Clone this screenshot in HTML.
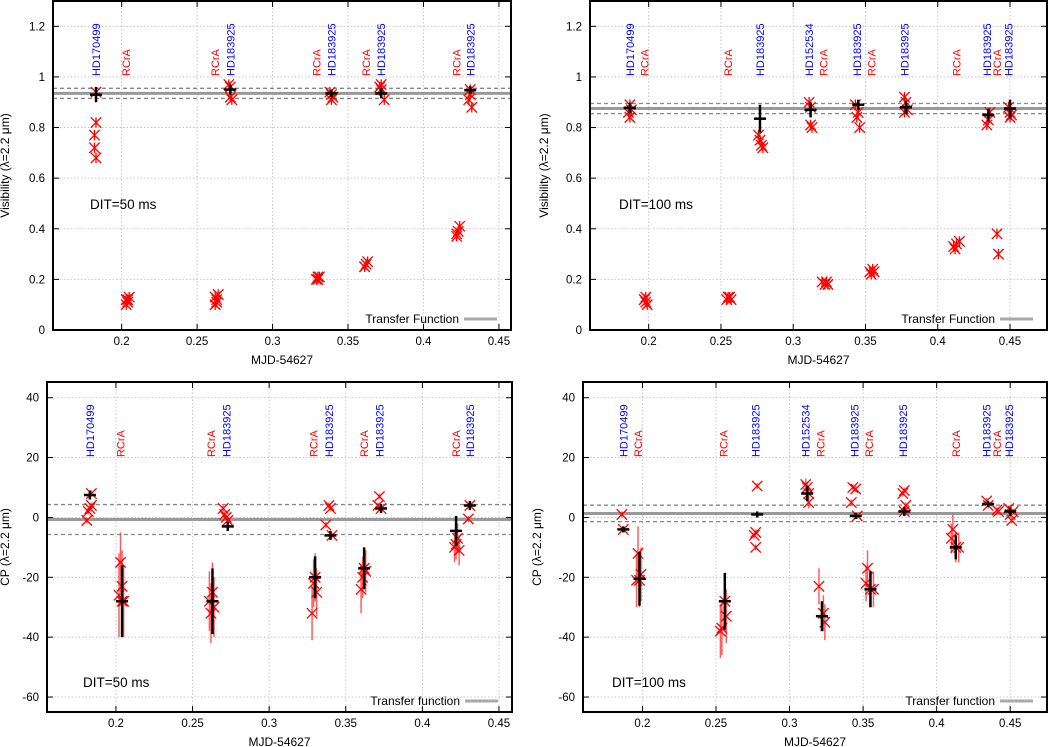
<!DOCTYPE html>
<html><head><meta charset="utf-8">
<style>
html,body{margin:0;padding:0;background:#fff;}
svg{display:block;font-family:"Liberation Sans",sans-serif;}
</style></head>
<body>
<svg id="fig" width="1052" height="747" viewBox="0 0 1052 747" xmlns="http://www.w3.org/2000/svg"></svg>
<script>
// ---------- Panel 1: Visibility DIT=50 ----------
const p1RedX = [0.183,0.183,0.182,0.182,0.183, 0.203,0.204,0.205,0.203,0.204, 0.262,0.263,0.262,0.264,0.263, 0.271,0.272,0.273,0.272, 0.329,0.330,0.331,0.330, 0.339,0.340,0.339,0.338, 0.361,0.362,0.363,0.361, 0.371,0.372,0.374,0.372, 0.422,0.423,0.424,0.422, 0.431,0.430,0.432,0.431];
const p1RedY = [0.94,0.82,0.77,0.72,0.68, 0.12,0.11,0.13,0.10,0.12, 0.13,0.12,0.10,0.14,0.11, 0.97,0.96,0.91,0.92, 0.20,0.21,0.21,0.20, 0.93,0.92,0.91,0.94, 0.25,0.26,0.27,0.25, 0.96,0.95,0.91,0.97, 0.38,0.39,0.41,0.37, 0.93,0.91,0.88,0.95];
const p1CalX = [0.183,0.272,0.339,0.372,0.431];
const p1CalY = [0.93,0.95,0.935,0.935,0.948];
const p1CalE = [0.03,0.02,0.015,0.02,0.015];
const p1TF = [0.935,0.955,0.915];
const p1LabX = [0.183,0.203,0.262,0.272,0.329,0.339,0.362,0.372,0.422,0.431];
const p1LabT = ["HD170499","RCrA","RCrA","HD183925","RCrA","HD183925","RCrA","HD183925","RCrA","HD183925"];

// ---------- Panel 2: Visibility DIT=100 ----------
const p2RedX = [0.187,0.188,0.187,0.186, 0.197,0.198,0.199,0.198,0.197, 0.254,0.256,0.257,0.255, 0.276,0.277,0.278,0.279, 0.311,0.312,0.313,0.312, 0.320,0.322,0.324,0.323, 0.343,0.345,0.344,0.346, 0.353,0.355,0.356,0.354, 0.377,0.378,0.379,0.377, 0.411,0.413,0.415,0.412, 0.435,0.434,0.436, 0.441,0.442, 0.449,0.450,0.451,0.450];
const p2RedY = [0.89,0.87,0.84,0.86, 0.12,0.11,0.10,0.13,0.12, 0.12,0.13,0.12,0.13, 0.77,0.75,0.73,0.72, 0.90,0.88,0.80,0.81, 0.19,0.18,0.18,0.19, 0.89,0.86,0.84,0.80, 0.23,0.24,0.23,0.22, 0.92,0.90,0.87,0.86, 0.33,0.34,0.35,0.32, 0.83,0.81,0.86, 0.38,0.30, 0.88,0.86,0.85,0.84];
const p2CalX = [0.187,0.277,0.312,0.345,0.378,0.435,0.450];
const p2CalY = [0.878,0.835,0.87,0.89,0.88,0.85,0.875];
const p2CalE = [0.02,0.055,0.03,0.02,0.025,0.025,0.035];
const p2TF = [0.875,0.895,0.855];
const p2LabX = [0.187,0.197,0.255,0.277,0.311,0.321,0.344,0.354,0.377,0.413,0.434,0.441,0.449];
const p2LabT = ["HD170499","RCrA","RCrA","HD183925","HD152534","RCrA","HD183925","RCrA","HD183925","RCrA","HD183925","RCrA","HD183925"];

// ---------- Panel 3: CP DIT=50 ----------
const p3RedX = [0.184,0.183,0.182,0.181,0.184, 0.203,0.202,0.204,0.205,0.204, 0.261,0.262,0.263,0.264, 0.270,0.271,0.272,0.273, 0.328,0.330,0.331,0.329, 0.339,0.340,0.337,0.341, 0.360,0.361,0.362,0.363, 0.372,0.373,0.371, 0.421,0.422,0.423,0.424, 0.431,0.430];
const p3RedY = [8,3,2,-1,4, -15,-26,-23,-28,-28, -28,-32,-25,-30, 3,1,0,-1, -32,-20,-25,-22, 4,3,-2.5,-6, -24,-20,-17,-18, 7,3,4, -10,-9,-7,-11, 4,-0.5];
const p3RedE = [1,1,1,1,1, 10,14,12,12,12, 10,10,10,10, 1,1,1,1, 9,8,8,8, 1,1,1,1, 8,7,7,7, 1,1,1, 5,5,5,5, 1,1];
const p3CalX = [0.183,0.204,0.263,0.273,0.330,0.340,0.362,0.373,0.422,0.431];
const p3CalY = [7.5,-28,-28,-3,-20,-6,-17,3,-4.5,4];
const p3CalE = [1.5,12,11,1.5,7,1.5,7,1.5,5,1.5];
const p3TF = [-0.7,4.3,-5.7];
const p3LabX = [0.183,0.203,0.262,0.272,0.329,0.339,0.362,0.372,0.422,0.431];
const p3LabT = ["HD170499","RCrA","RCrA","HD183925","RCrA","HD183925","RCrA","HD183925","RCrA","HD183925"];

// ---------- Panel 4: CP DIT=100 ----------
const p4RedX = [0.186,0.187, 0.197,0.198,0.199,0.196, 0.254,0.253,0.256,0.257, 0.278,0.277,0.276,0.277, 0.311,0.312,0.313,0.313, 0.320,0.323,0.324, 0.343,0.345,0.342,0.346, 0.353,0.352,0.355,0.357, 0.377,0.378,0.379,0.378, 0.411,0.410,0.413,0.415, 0.434,0.435, 0.441,0.442, 0.449,0.450,0.451,0.452];
const p4RedY = [1,-4, -12,-21,-19,-21, -37,-38,-28,-33, 10.5,-5,-6,-10, 11,10,8,5, -23,-32,-35, 10,9.5,5,0.5, -17,-22,-24,-24, 8,9,4,2, -4,-7,-10,-10, 5.5,4, 2.5,2, 3,1,-1,2];
const p4RedE = [1,1, 9,9,9,9, 9,9,9,9, 1,1,1,1, 2,2,2,2, 6,6,6, 1,1,1,1, 6,6,6,6, 1,1,1,1, 5,5,5,5, 1,1, 1,1, 1,1,1,1];
const p4CalX = [0.187,0.198,0.256,0.278,0.312,0.322,0.345,0.355,0.378,0.413,0.435,0.450];
const p4CalY = [-4,-20.5,-28,1,8,-33,0.5,-24,2,-10,4.5,2];
const p4CalE = [1,9,9.5,1,2.5,5,1,6,1.5,4,1,1.5];
const p4TF = [1.3,4.1,-1.4];
const p4LabX = [0.187,0.197,0.255,0.277,0.311,0.321,0.344,0.354,0.377,0.413,0.434,0.441,0.449];
const p4LabT = ["HD170499","RCrA","RCrA","HD183925","HD152534","RCrA","HD183925","RCrA","HD183925","RCrA","HD183925","RCrA","HD183925"];

const xTicks = [0.2,0.25,0.3,0.35,0.4,0.45];
const xTickLabels = ["0.2","0.25","0.3","0.35","0.4","0.45"];
const visTicks = [0,0.2,0.4,0.6,0.8,1,1.2];
const visTickLabels = ["0","0.2","0.4","0.6","0.8","1","1.2"];
const cpTicks = [-60,-40,-20,0,20,40];
const cpTickLabels = ["-60","-40","-20","0","20","40"];

const NS = "http://www.w3.org/2000/svg";
const svg = document.getElementById('fig');
function mk(tag, attrs, parent){
  const e = document.createElementNS(NS, tag);
  for (const k in attrs) e.setAttribute(k, attrs[k]);
  (parent||svg).appendChild(e);
  return e;
}

function panel(cfg){
  const g = mk('g', {});
  
  
  const {L,R,T,B,x0,x1,y0,y1} = cfg;
  const sx = v => L + (v - x0) / (x1 - x0) * (R - L);
  const sy = v => B - (v - y0) / (y1 - y0) * (B - T);
  cfg.xt.forEach((v,i) => {
    const gl = mk('line', {x1:sx(v),x2:sx(v),y1:T,y2:B,stroke:'#bbb','stroke-width':0.8,'stroke-dasharray':'1.5,2'}, g);
    
    
    mk('line', {x1:sx(v),x2:sx(v),y1:B,y2:B-6,stroke:'#000','stroke-width':1}, g);
    mk('line', {x1:sx(v),x2:sx(v),y1:T,y2:T+6,stroke:'#000','stroke-width':1}, g);
    const t = mk('text', {x:sx(v),y:B+15,'text-anchor':'middle','font-size':11.5,fill:'#000'}, g);
    
    
    t.textContent = cfg.xtl[i];
  });
  cfg.yt.forEach((v,i) => {
    const gl = mk('line', {x1:L,x2:R,y1:sy(v),y2:sy(v),stroke:'#bbb','stroke-width':0.8,'stroke-dasharray':'1.5,2'}, g);
    
    
    mk('line', {x1:L,x2:L+6,y1:sy(v),y2:sy(v),stroke:'#000','stroke-width':1}, g);
    mk('line', {x1:R,x2:R-6,y1:sy(v),y2:sy(v),stroke:'#000','stroke-width':1}, g);
    const t = mk('text', {x:L-8,y:sy(v)+4,'text-anchor':'end','font-size':11.5,fill:'#000'}, g);
    
    
    t.textContent = cfg.ytl[i];
  });
  const tf = cfg.tf;
  const tfl = mk('line', {x1:L,x2:R,y1:sy(tf[0]),y2:sy(tf[0]),stroke:'#999','stroke-width':3}, g);
  
  
  [tf[1],tf[2]].forEach(v => {
    const d = mk('line', {x1:L,x2:R,y1:sy(v),y2:sy(v),stroke:'#888','stroke-width':1.3,'stroke-dasharray':'4,3'}, g);
    
    
  });
  if (cfg.re) cfg.rx.forEach((v,i) => {
    const e = mk('line', {x1:sx(v),x2:sx(v),y1:sy(cfg.ry[i]-cfg.re[i]),y2:sy(cfg.ry[i]+cfg.re[i]),stroke:'rgba(255,40,40,0.75)','stroke-width':1.5}, g);
    
    
  });
  cfg.rx.forEach((v,i) => {
    const X = sx(v), Y = sy(cfg.ry[i]), s = 5.2;
    let d = `M${X-s},${Y-s}L${X+s},${Y+s}M${X-s},${Y+s}L${X+s},${Y-s}`;
    if (cfg.star) d += `M${X},${Y-s}L${X},${Y+s}`;
    const p = mk('path', {d:d,stroke:'#f00','stroke-width':1.3,fill:'none'}, g);
    
    
  });
  cfg.cx.forEach((v,i) => {
    const X = sx(v), Y = sy(cfg.cy[i]);
    const e = mk('line', {x1:X,x2:X,y1:sy(cfg.cy[i]-cfg.ce[i]),y2:sy(cfg.cy[i]+cfg.ce[i]),stroke:'#000','stroke-width':2.5}, g);
    
    
    const h = mk('line', {x1:X-6,x2:X+6,y1:Y,y2:Y,stroke:'#000','stroke-width':2.5}, g);
    
    
  });
  cfg.lx.forEach((v,i) => {
    const X = sx(v) + 4, Y = cfg.labY;
    const t = mk('text', {x:X,y:Y,transform:`rotate(-90 ${X} ${Y})`,'font-size':11,fill:cfg.lt[i]==='RCrA'?'#f00':'#00f'}, g);
    
    
    t.textContent = cfg.lt[i];
  });
  const dt = mk('text', {x:cfg.ditX,y:cfg.ditY,'font-size':13.5,fill:'#000'}, g);
  
  
  dt.textContent = cfg.dit;
  const lg = mk('text', {x:R-52,y:B-7,'text-anchor':'end','font-size':12,fill:'#000'}, g);
  
  
  lg.textContent = cfg.leg;
  const ll = mk('line', {x1:R-47,x2:R-14,y1:B-11,y2:B-11,stroke:'#aaa','stroke-width':3}, g);
  
  
  const f = mk('rect', {x:L,y:T,width:R-L,height:B-T,fill:'none',stroke:'#000','stroke-width':2}, g);
  
  
  const xa = mk('text', {x:(L+R)/2,y:B+34,'text-anchor':'middle','font-size':12,fill:'#000'}, g);
  
  
  xa.textContent = 'MJD-54627';
  const yx = cfg.yTitleX, yy = (T+B)/2;
  const ya = mk('text', {x:yx,y:yy,'text-anchor':'middle','font-size':12,fill:'#000',transform:`rotate(-90 ${yx} ${yy})`}, g);
  
  
  ya.textContent = cfg.ytitle;
}

panel({name:'visibility-dit50-panel',L:53,R:511,T:1,B:330,x0:0.1545,x1:0.458,y0:0,y1:1.3,
  xt:xTicks,xtl:xTickLabels,yt:visTicks,ytl:visTickLabels,tf:p1TF,
  rx:p1RedX,ry:p1RedY,star:true,cx:p1CalX,cy:p1CalY,ce:p1CalE,lx:p1LabX,lt:p1LabT,labY:76,
  dit:'DIT=50 ms',ditX:90,ditY:209,leg:'Transfer Function',yTitleX:9,ytitle:'Visibility (λ=2.2 μm)'});
panel({name:'visibility-dit100-panel',L:590,R:1047,T:1,B:330,x0:0.1594,x1:0.4756,y0:0,y1:1.3,
  xt:xTicks,xtl:xTickLabels,yt:visTicks,ytl:visTickLabels,tf:p2TF,
  rx:p2RedX,ry:p2RedY,star:true,cx:p2CalX,cy:p2CalY,ce:p2CalE,lx:p2LabX,lt:p2LabT,labY:76,
  dit:'DIT=100 ms',ditX:619,ditY:209,leg:'Transfer Function',yTitleX:548,ytitle:'Visibility (λ=2.2 μm)'});
panel({name:'closure-phase-dit50-panel',L:47,R:512,T:382,B:712,x0:0.155,x1:0.4585,y0:-65,y1:45.25,
  xt:xTicks,xtl:xTickLabels,yt:cpTicks,ytl:cpTickLabels,tf:p3TF,
  rx:p3RedX,ry:p3RedY,re:p3RedE,star:false,cx:p3CalX,cy:p3CalY,ce:p3CalE,lx:p3LabX,lt:p3LabT,labY:457,
  dit:'DIT=50 ms',ditX:83,ditY:687,leg:'Transfer function',yTitleX:9,ytitle:'CP (λ=2.2 μm)'});
panel({name:'closure-phase-dit100-panel',L:583,R:1047,T:382,B:712,x0:0.1596,x1:0.475,y0:-65,y1:45.25,
  xt:xTicks,xtl:xTickLabels,yt:cpTicks,ytl:cpTickLabels,tf:p4TF,
  rx:p4RedX,ry:p4RedY,re:p4RedE,star:false,cx:p4CalX,cy:p4CalY,ce:p4CalE,lx:p4LabX,lt:p4LabT,labY:457,
  dit:'DIT=100 ms',ditX:612,ditY:687,leg:'Transfer function',yTitleX:541,ytitle:'CP (λ=2.2 μm)'});
</script>
</body></html>
